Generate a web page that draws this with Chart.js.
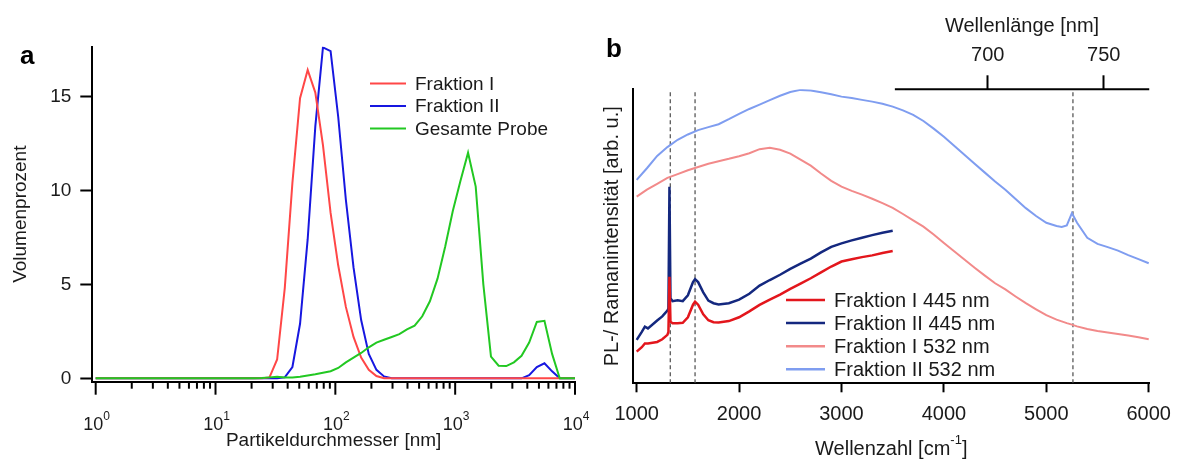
<!DOCTYPE html>
<html>
<head>
<meta charset="utf-8">
<script src="https://cdn.jsdelivr.net/npm/chart.js@4.4.1/dist/chart.umd.min.js"></script>
<style>
  html, body { margin: 0; padding: 0; background: #fff; }
  #wrap { position: relative; width: 1181px; height: 464px; }
  #chartA { position: absolute; left: 0; top: 0; }
  #chartB { position: absolute; left: 600px; top: 0; }
</style>
</head>
<body>
<div id="wrap">
  <canvas id="chartA" width="600" height="464"></canvas>
  <canvas id="chartB" width="581" height="464"></canvas>
</div>
<script>
const FONT = "'Liberation Sans', Arial, sans-serif";
const TEXT = '#1a1a1a';
Chart.defaults.font.family = FONT;
Chart.defaults.color = TEXT;

// ---- panel a: particle size distribution ----
const sizeClasses = [1, 10.1, 11.7, 13.54, 15.69, 18.17, 21.04, 24.36, 28.21, 32.67, 37.84, 43.82, 50.75,
  58.77, 68.06, 78.82, 91.28, 105.7, 122.4, 141.8, 164.2, 190.1, 220.2, 255, 295.3, 342, 396.1, 458.7,
  531.2, 615.1, 712.4, 825, 955.4, 1106, 1281, 1484, 1718, 1990, 2305, 2669, 3091, 3580, 4145, 4801,
  5560, 6439, 7456, 8635, 10000];
const fraktionI = [0, 0, 0, 0, 0, 0, 0, 0, 0.05, 1.0, 4.8, 10.4, 14.9,
  16.4, 15.2, 12.4, 8.8, 6.0, 3.8, 2.2, 1.1, 0.45, 0.12, 0, 0, 0, 0, 0,
  0, 0, 0, 0, 0, 0, 0, 0, 0, 0, 0, 0, 0, 0, 0, 0,
  0, 0, 0, 0, 0];
const fraktionII = [0, 0, 0, 0, 0, 0, 0, 0, 0, 0, 0.05, 0.6, 2.9,
  7.4, 13.4, 17.6, 17.4, 13.9, 9.5, 5.9, 3.1, 1.3, 0.45, 0.1, 0, 0, 0, 0,
  0, 0, 0, 0, 0, 0, 0, 0, 0, 0, 0, 0, 0, 0, 0.17, 0.6,
  0.8, 0.37, 0, 0, 0];
const gesamteProbe = [0, 0, 0, 0, 0, 0, 0, 0.02, 0.05, 0.08, 0.05, 0.05, 0.08,
  0.15, 0.22, 0.3, 0.38, 0.55, 0.85, 1.1, 1.35, 1.65, 1.9, 2.05, 2.2, 2.35, 2.6, 2.8,
  3.3, 4.1, 5.3, 7.0, 8.9, 10.5, 12.0, 10.2, 5.0, 1.15, 0.67, 0.65, 0.85, 1.2, 1.9, 3.0,
  3.06, 1.3, 0, 0, 0];
const sizeNames = ['Fraktion I', 'Fraktion II', 'Gesamte Probe'];
const sizeColors = ['#ff4747', '#1717e0', '#22c822'];
const volumeTicks = [0, 5, 10, 15];
const sizeDecades = [1, 10, 100, 1000, 10000];

// ---- panel b: PL / Raman spectra ----
const shift445 = [1000, 1050, 1080, 1110, 1200, 1250, 1300, 1310, 1320, 1330, 1350, 1400, 1450, 1500,
  1550, 1570, 1600, 1650, 1700, 1750, 1800, 1900, 2000, 2100, 2200, 2300, 2400, 2500, 2600, 2700,
  2800, 2900, 3000, 3100, 3200, 3300, 3400, 3500];
const fraktionI445 = [10.8, 12.3, 13.6, 13.6, 14.1, 15.0, 16.5, 17.5, 36.3, 21.0, 20.5, 20.5, 20.6, 22.5,
  26.8, 27.8, 26.8, 23.5, 21.5, 20.8, 20.7, 21.2, 22.5, 24.5, 26.7, 28.5, 30.2, 32.2, 34.0, 35.8,
  37.8, 39.8, 41.5, 42.3, 43.0, 43.6, 44.4, 45.1];
const fraktionII445 = [14.8, 17.5, 19.3, 18.7, 21.4, 22.8, 24.8, 25.5, 67.0, 29.0, 28.0, 28.3, 28.0, 30.0,
  34.5, 35.5, 34.5, 31.0, 28.2, 27.3, 26.9, 27.3, 28.5, 30.5, 33.3, 35.2, 37.0, 39.0, 40.8, 42.5,
  44.6, 46.5, 47.7, 48.7, 49.6, 50.5, 51.3, 52.0];
const shift532 = [1000, 1100, 1200, 1300, 1400, 1500, 1600, 1700, 1800, 1900, 2000, 2100, 2200, 2300,
  2400, 2500, 2600, 2700, 2800, 2900, 3000, 3100, 3200, 3300, 3400, 3500, 3600, 3700, 3800, 3900,
  4000, 4100, 4200, 4300, 4400, 4500, 4600, 4700, 4800, 4900, 5000, 5100, 5150, 5200, 5250, 5300,
  5400, 5500, 5600, 5700, 5800, 5900, 6000];
const fraktionI532 = [63.6, 66.0, 68.0, 70.0, 71.3, 72.6, 73.7, 74.8, 75.7, 76.5, 77.4, 78.4, 79.8, 80.3,
  79.6, 78.3, 76.2, 74.2, 71.5, 69.0, 67.0, 65.6, 64.3, 62.9, 61.4, 59.8, 57.7, 55.5, 53.4, 50.7,
  47.8, 45.0, 42.2, 39.4, 36.7, 34.1, 32.0, 29.6, 27.3, 25.2, 23.2, 21.7, 21.1, 20.5, 20.0, 19.4,
  18.5, 17.8, 17.3, 16.8, 16.3, 15.7, 15.0];
const fraktionII532 = [69.3, 73.3, 77.5, 80.5, 83.0, 84.8, 86.3, 87.3, 88.3, 90.0, 91.8, 93.5, 95.0, 96.5,
  98.0, 99.3, 100, 99.8, 99.2, 98.5, 97.7, 97.2, 96.6, 96.0, 95.3, 94.3, 93.0, 91.5, 89.4, 86.8,
  84.0, 81.0, 77.9, 74.8, 71.8, 68.8, 66.0, 62.8, 59.7, 57.0, 54.7, 53.6, 53.3, 53.8, 58.0, 54.7,
  49.6, 47.5, 46.4, 45.2, 43.7, 42.3, 40.9];
const spectraNames = ['Fraktion I 445 nm', 'Fraktion II 445 nm', 'Fraktion I 532 nm', 'Fraktion II 532 nm'];
const spectraColors = ['#e3161c', '#14287f', '#f28a8a', '#7f9df0'];
const bandLines = [1328, 1570, 5260];
const wavenumberTicks = [1000, 2000, 3000, 4000, 5000, 6000];
const wavelengthTicks = [700, 750];

const pts = (xs, ys) => xs.map((x, i) => ({ x, y: ys[i] }));
const font = (size, weight) => `${weight || 'normal'} ${size}px ${FONT}`;

// minor + major ticks of the log axis
const logTicks = [];
sizeDecades.slice(0, -1).forEach(d => { for (let m = 1; m < 10; m++) logTicks.push(m * d); });
logTicks.push(sizeDecades[sizeDecades.length - 1]);

function drawLegend(ctx, names, colors, x, y, gap, lineLen, lineWidth, size) {
  ctx.font = font(size);
  ctx.textBaseline = 'middle';
  ctx.textAlign = 'left';
  names.forEach((name, i) => {
    const yy = y + i * gap;
    ctx.strokeStyle = colors[i];
    ctx.lineWidth = lineWidth;
    ctx.beginPath(); ctx.moveTo(x, yy); ctx.lineTo(x + lineLen, yy); ctx.stroke();
    ctx.fillStyle = TEXT;
    ctx.fillText(name, x + lineLen + 9, yy + 1);
  });
}

// Panel a decorations: log ticks, 10^n labels, legend, panel letter
const sizeDecor = {
  id: 'sizeDecor',
  afterDraw(chart) {
    const { ctx, chartArea, scales: { x } } = chart;
    ctx.save();
    ctx.strokeStyle = '#000';
    ctx.lineWidth = 2;
    x.ticks.forEach(t => {
      const px = x.getPixelForValue(t.value);
      const major = sizeDecades.includes(t.value);
      ctx.beginPath();
      ctx.moveTo(px, chartArea.bottom);
      ctx.lineTo(px, chartArea.bottom + (major ? 13 : 7));
      ctx.stroke();
    });
    ctx.fillStyle = TEXT;
    ctx.textAlign = 'left';
    ctx.textBaseline = 'alphabetic';
    sizeDecades.forEach(v => {
      const px = x.getPixelForValue(v);
      const exp = String(Math.round(Math.log10(v)));
      ctx.font = font(18);
      const wb = ctx.measureText('10').width;
      ctx.font = font(12);
      const we = ctx.measureText(exp).width;
      const left = px - (wb + we) / 2 + 1;
      ctx.font = font(18);
      ctx.fillText('10', left, 430);
      ctx.font = font(12);
      ctx.fillText(exp, left + wb, 420);
    });
    drawLegend(ctx, sizeNames, sizeColors, 370, 83.5, 22.5, 36, 2, 19);
    ctx.fillStyle = '#000';
    ctx.font = font(26, 'bold');
    ctx.fillText('a', 20, 57);
    ctx.restore();
  }
};

new Chart(document.getElementById('chartA'), {
  type: 'line',
  data: {
    datasets: [fraktionI, fraktionII, gesamteProbe].map((ys, i) => ({
      label: sizeNames[i],
      data: pts(sizeClasses, ys),
      borderColor: sizeColors[i],
      borderWidth: 2,
      pointRadius: 0,
      tension: 0,
      order: [1, 2, 0][i]
    }))
  },
  options: {
    responsive: false,
    animation: false,
    layout: { padding: { top: 46.7, right: 25, left: 0, bottom: 0 } },
    plugins: { legend: { display: false }, tooltip: { enabled: false } },
    scales: {
      x: {
        type: 'logarithmic', min: 0.937, max: 10000,
        afterBuildTicks: s => { s.ticks = logTicks.map(v => ({ value: v })); },
        afterFit: s => { s.height = 82.3; },
        grid: { display: false },
        border: { display: true, width: 2, color: '#000' },
        ticks: { callback: () => '' },
        title: { display: true, text: 'Partikeldurchmesser [nm]', font: { size: 19 }, padding: { top: 0, bottom: 12 } }
      },
      y: {
        min: -0.18, max: 17.64,
        afterBuildTicks: s => { s.ticks = volumeTicks.map(v => ({ value: v })); },
        afterFit: s => { s.width = 92.3; },
        grid: { drawOnChartArea: false, tickLength: 12, tickWidth: 2, tickColor: '#000' },
        border: { width: 2, color: '#000' },
        ticks: { font: { size: 19 }, padding: 9 },
        title: { display: true, text: 'Volumenprozent', font: { size: 19 }, padding: { top: 9.6, bottom: 0 } }
      }
    }
  },
  plugins: [sizeDecor]
});

// Panel b decorations: partial top axis, titles, legend, panel letter
const spectraDecor = {
  id: 'spectraDecor',
  afterDraw(chart) {
    const { ctx, chartArea, scales: { x, x2 } } = chart;
    ctx.save();
    // top wavelength axis only spans the right part
    const x0 = x2.getPixelForValue(660);
    ctx.strokeStyle = '#000';
    ctx.lineWidth = 2;
    ctx.beginPath();
    ctx.moveTo(x0, chartArea.top);
    ctx.lineTo(chartArea.right, chartArea.top);
    ctx.stroke();
    ctx.fillStyle = TEXT;
    ctx.textAlign = 'center';
    ctx.textBaseline = 'middle';
    ctx.font = font(20);
    ctx.fillText('Wellenlänge [nm]', (x0 + chartArea.right) / 2, 26);

    // bottom title with superscript
    const main = 'Wellenzahl [cm', sup = '-1', end = ']';
    ctx.font = font(20);
    const w1 = ctx.measureText(main).width, w3 = ctx.measureText(end).width;
    ctx.font = font(13);
    const w2 = ctx.measureText(sup).width;
    let left = (chartArea.left + chartArea.right) / 2 - (w1 + w2 + w3) / 2;
    ctx.textAlign = 'left';
    ctx.textBaseline = 'alphabetic';
    ctx.font = font(20);
    ctx.fillText(main, left, 455);
    ctx.font = font(13);
    ctx.fillText(sup, left + w1, 444);
    ctx.font = font(20);
    ctx.fillText(end, left + w1 + w2, 455);

    drawLegend(ctx, spectraNames, spectraColors, 186, 300, 23.1, 39, 2.5, 20);
    ctx.fillStyle = '#000';
    ctx.font = font(26, 'bold');
    ctx.textBaseline = 'alphabetic';
    ctx.fillText('b', 6, 57);
    ctx.restore();
  }
};

const spectra = [fraktionI445, fraktionII445, fraktionI532, fraktionII532].map((ys, i) => ({
  label: spectraNames[i],
  data: pts(i < 2 ? shift445 : shift532, ys),
  borderColor: spectraColors[i],
  borderWidth: i < 2 ? 2.5 : 2,
  pointRadius: 0,
  tension: 0
}));
const dashed = bandLines.map(v => ({
  label: 'band ' + v,
  data: [{ x: v, y: 0 }, { x: v, y: 100.2 }],
  borderColor: '#4a4a4a',
  borderWidth: 1.2,
  borderDash: [4, 3],
  pointRadius: 0,
  order: 5
}));

new Chart(document.getElementById('chartB'), {
  type: 'line',
  data: { datasets: spectra.concat(dashed) },
  options: {
    responsive: false,
    animation: false,
    layout: { padding: { top: 0, right: 26, left: 0, bottom: 0 } },
    plugins: { legend: { display: false }, tooltip: { enabled: false } },
    scales: {
      x: {
        type: 'linear', min: 967, max: 6005,
        afterBuildTicks: s => { s.ticks = wavenumberTicks.map(v => ({ value: v })); },
        afterFit: s => { s.height = 80.7; },
        grid: { drawOnChartArea: false, tickLength: 9, tickWidth: 2, tickColor: '#000' },
        border: { width: 2, color: '#000' },
        ticks: { font: { size: 20 }, padding: 10, callback: v => String(v) }
      },
      x2: {
        type: 'linear', position: 'top', min: 547.3, max: 769.6,
        afterBuildTicks: s => { s.ticks = wavelengthTicks.map(v => ({ value: v })); },
        afterFit: s => { s.height = 89.3; },
        grid: { drawOnChartArea: false, tickLength: 14, tickWidth: 2, tickColor: '#000' },
        border: { display: false },
        ticks: { font: { size: 20 }, padding: 8, callback: v => String(v) }
      },
      y: {
        min: 0, max: 100.2,
        afterFit: s => { s.width = 33.3; },
        grid: { display: false },
        ticks: { display: false },
        border: { width: 2, color: '#000' },
        title: { display: true, text: 'PL-/ Ramanintensität [arb. u.]', font: { size: 20 }, padding: { top: 0, bottom: 0 } }
      }
    }
  },
  plugins: [spectraDecor]
});
</script>
</body>
</html>
